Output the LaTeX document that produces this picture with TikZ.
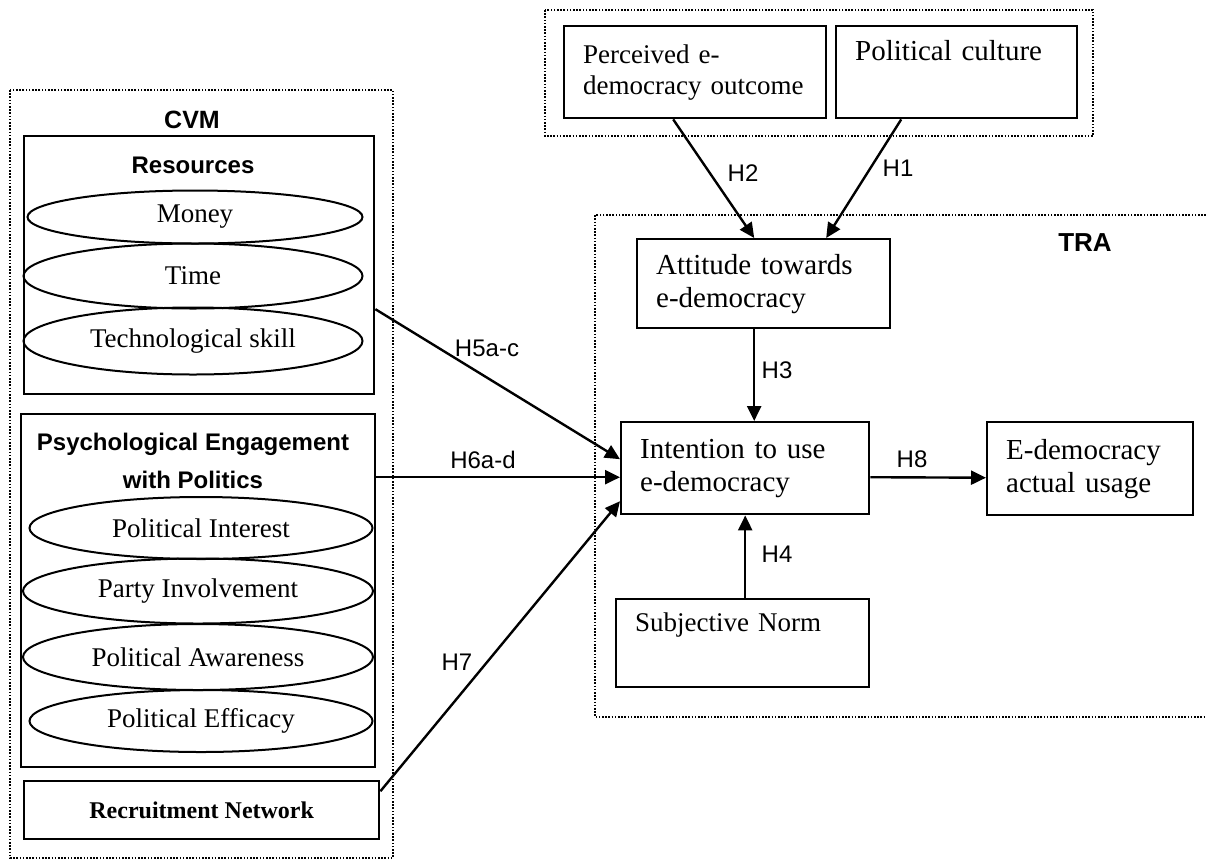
\documentclass[tikz,border=0pt]{standalone}
\usepackage{fontspec}
\setmainfont{Liberation Serif}
\setsansfont{Liberation Sans}
\usetikzlibrary{shapes.geometric,arrows.meta}
\begin{document}
\begin{tikzpicture}[x=1pt,y=-1pt,
  frame/.style={line width=2.2pt,dash pattern=on 1.6pt off 1.6pt},
  cbox/.style={draw,line width=2.4pt,inner xsep=19pt,inner ysep=0pt,align=left,anchor=north west,font=\fontsize{29}{33}\selectfont},
  grp/.style={draw,line width=2.4pt,anchor=north west,inner sep=0pt},
  ell/.style={ellipse,draw,line width=2pt,inner sep=0pt,minimum width=343pt,font=\fontsize{27}{30}\selectfont},
  head/.style={font=\sffamily\bfseries\fontsize{24}{38}\selectfont,align=center},
  hyp/.style={font=\sffamily\fontsize{24}{28}\selectfont},
  arr/.style={line width=2.4pt,-{Triangle[length=15pt,width=14pt]}}]
\useasboundingbox (0,0) rectangle (1206,860);
% dotted frames
\draw[frame] (10,90) rectangle (393,858);
\draw[frame] (545,10) rectangle (1093,136);
\draw[frame] (1206,215) -| (595,717) -- (1206,717);
\node (cvm) [head,font=\sffamily\bfseries\fontsize{25}{30}\selectfont] at (192,120) {CVM};
\node (tra) [head,font=\sffamily\bfseries\fontsize{26}{30}\selectfont] at (1085,243) {TRA};
% CVM side
\node (res) [grp,minimum width=350pt,minimum height=258pt] at (23,135) {};
\node (reshead) [head] at (193,165) {Resources};
\node (money) [ell,minimum width=335pt,minimum height=53pt] at (195,217) {Money};
\node (time) [ell,minimum width=339pt,minimum height=65pt] at (193,276) {Time};
\node (tech) [ell,minimum width=339pt,minimum height=67pt] at (193,341) {Technological skill};
\node (psy) [grp,minimum width=354pt,minimum height=353pt] at (20,413) {};
\node (psyhead) [head] at (193,461) {Psychological Engagement\\with Politics};
\node (inter) [ell,minimum height=62pt] at (201,528) {Political Interest};
\node (party) [ell,minimum width=350pt,minimum height=65pt] at (198,591) {Party Involvement};
\node (aware) [ell,minimum width=350pt,minimum height=66pt] at (198,657) {Political Awareness};
\node (effic) [ell,minimum height=62pt] at (201,721) {Political Efficacy};
\node (rec) [grp,minimum width=355pt,minimum height=58pt,font=\bfseries\fontsize{24}{28}\selectfont] at (23,780) {Recruitment Network};
% TRA side
\node (perc) [cbox,text width=224pt,minimum height=92pt,font=\fontsize{27}{31}\selectfont] at (563,25) {Perceived e-\\democracy outcome};
\node (pol) [cbox,text width=203pt,minimum height=92pt] at (835,25) {Political culture\\\strut};
\node (att) [cbox,text width=215pt,minimum height=89pt] at (636,238) {Attitude towards\\e-democracy};
\node (int) [cbox,text width=210pt,minimum height=92pt] at (620,421) {Intention to use\\e-democracy};
\node (edem) [cbox,text width=168pt,minimum height=93pt] at (986,421) {E-democracy\\actual usage};
\node (subj) [cbox,text width=215pt,minimum height=88pt,font=\fontsize{27}{33}\selectfont] at (615,598) {Subjective Norm\\\strut};
% hypotheses
\draw[arr] ([xshift=-22pt]perc.south) -- ([xshift=-9.5pt]att.north);
\draw[arr] ([xshift=-55.5pt]pol.south) -- ([xshift=62.5pt]att.north);
\draw[arr] ([xshift=-9.5pt]att.south) -- ([xshift=9pt]int.north);
\draw[arr] ([xshift=2.5pt]subj.north) -- (int.south);
\draw[arr] ([yshift=-9pt]int.east) -- ([yshift=-9pt]edem.west);
\draw[arr] ([yshift=-44pt]res.east) -- ([yshift=9pt]int.west);
\draw[arr] ([yshift=113.5pt]psy.east) -- ([yshift=-9pt]int.west);
\draw[arr] ([yshift=19pt]rec.east) -- ([yshift=-33pt]int.west);
\node (h1) [hyp] at (898,168) {H1};
\node (h2) [hyp] at (743,173) {H2};
\node (h3) [hyp] at (777,370) {H3};
\node (h4) [hyp] at (777,554) {H4};
\node (h5) [hyp] at (487,348) {H5a-c};
\node (h6) [hyp] at (483,460) {H6a-d};
\node (h7) [hyp] at (457,662) {H7};
\node (h8) [hyp] at (912,459) {H8};
\end{tikzpicture}
\end{document}
